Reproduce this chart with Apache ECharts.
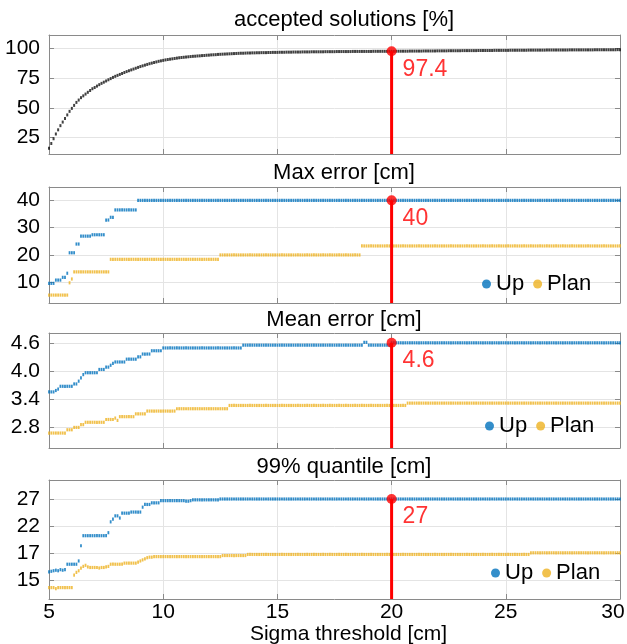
<!DOCTYPE html>
<html lang="en">
<head>
<meta charset="UTF-8">
<title>Sigma threshold</title>
<style type="text/css">
    html, body {
        margin: 0;
        padding: 0;
        background: #fff;
    }

    #main {
        width: 627px;
        height: 644px;
    }
</style>
</head>
<body>
<div id="main"></div>
<script src="https://cdn.jsdelivr.net/npm/echarts@6/dist/echarts.min.js"></script>
<script type="text/javascript">
// sigma threshold grid [cm]: 5.0, 5.1, ... 30.0
var xStart = 5;
var xStep = 0.1;

// accepted solutions [%]
var accepted = [
    16, 20, 24, 28, 31.5, 35, 38, 41, 44, 47,
    49.5, 52, 54.5, 56.5, 58.5, 60, 61.5, 63, 64.5, 66,
    67, 68.2, 69.4, 70.5, 71.5, 72.5, 73.5, 74.5, 75.5, 76.4,
    77.2, 78, 78.8, 79.6, 80.4, 81.1, 81.8, 82.5, 83.2, 83.9,
    84.6, 85.2, 85.8, 86.4, 87, 87.5, 88, 88.5, 89, 89.4,
    89.8, 90.2, 90.5, 90.8, 91.1, 91.4, 91.7, 92, 92.2, 92.4,
    92.6, 92.8, 93, 93.2, 93.3, 93.5, 93.6, 93.8, 93.9, 94.1,
    94.2, 94.4, 94.5, 94.6, 94.8, 94.9, 95, 95.1, 95.2, 95.3,
    95.4, 95.5, 95.6, 95.7, 95.8, 95.8, 95.9, 96, 96, 96.1,
    96.1, 96.2, 96.2, 96.3, 96.3, 96.3, 96.4, 96.4, 96.5, 96.5,
    96.5, 96.6, 96.6, 96.6, 96.7, 96.7, 96.7, 96.8, 96.8, 96.8,
    96.8, 96.9, 96.9, 96.9, 96.9, 97, 97, 97, 97, 97,
    97, 97.1, 97.1, 97.1, 97.1, 97.1, 97.2, 97.2, 97.2, 97.2,
    97.2, 97.2, 97.2, 97.3, 97.3, 97.3, 97.3, 97.3, 97.3, 97.3,
    97.3, 97.3, 97.4, 97.4, 97.4, 97.4, 97.4, 97.4, 97.4, 97.4,
    97.4, 97.4, 97.5, 97.5, 97.5, 97.5, 97.5, 97.5, 97.6, 97.6,
    97.6, 97.6, 97.6, 97.6, 97.7, 97.7, 97.7, 97.7, 97.7, 97.7,
    97.8, 97.8, 97.8, 97.8, 97.8, 97.9, 97.9, 97.9, 97.9, 97.9,
    97.9, 98, 98, 98, 98, 98, 98, 98, 98.1, 98.1,
    98.1, 98.1, 98.1, 98.1, 98.1, 98.2, 98.2, 98.2, 98.2, 98.2,
    98.2, 98.2, 98.3, 98.3, 98.3, 98.3, 98.3, 98.3, 98.3, 98.3,
    98.4, 98.4, 98.4, 98.4, 98.4, 98.4, 98.4, 98.4, 98.5, 98.5,
    98.5, 98.5, 98.5, 98.5, 98.5, 98.5, 98.5, 98.5, 98.6, 98.6,
    98.6, 98.6, 98.6, 98.6, 98.6, 98.6, 98.6, 98.6, 98.6, 98.7,
    98.7, 98.7, 98.7, 98.7, 98.7, 98.7, 98.7, 98.7, 98.7, 98.8,
    98.8
];

// max error [cm]
var maxUp = [
    9.6, 9.6, 9.6, 10.8, 10.8, 10.8, 11.8, 11.8, 13.3, 20.8,
    20.8, 20.8, 24, 24, 26.9, 26.9, 26.9, 26.9, 26.9, 27.4,
    27.4, 27.4, 27.4, 27.4, 27.4, 32.8, 32.8, 33.8, 33.8, 36.5,
    36.5, 36.5, 36.5, 36.5, 36.5, 36.5, 36.5, 36.5, 36.5, 40,
    40, 40, 40, 40, 40, 40, 40, 40, 40, 40,
    40, 40, 40, 40, 40, 40, 40, 40, 40, 40,
    40, 40, 40, 40, 40, 40, 40, 40, 40, 40,
    40, 40, 40, 40, 40, 40, 40, 40, 40, 40,
    40, 40, 40, 40, 40, 40, 40, 40, 40, 40,
    40, 40, 40, 40, 40, 40, 40, 40, 40, 40,
    40, 40, 40, 40, 40, 40, 40, 40, 40, 40,
    40, 40, 40, 40, 40, 40, 40, 40, 40, 40,
    40, 40, 40, 40, 40, 40, 40, 40, 40, 40,
    40, 40, 40, 40, 40, 40, 40, 40, 40, 40,
    40, 40, 40, 40, 40, 40, 40, 40, 40, 40,
    40, 40, 40, 40, 40, 40, 40, 40, 40, 40,
    40, 40, 40, 40, 40, 40, 40, 40, 40, 40,
    40, 40, 40, 40, 40, 40, 40, 40, 40, 40,
    40, 40, 40, 40, 40, 40, 40, 40, 40, 40,
    40, 40, 40, 40, 40, 40, 40, 40, 40, 40,
    40, 40, 40, 40, 40, 40, 40, 40, 40, 40,
    40, 40, 40, 40, 40, 40, 40, 40, 40, 40,
    40, 40, 40, 40, 40, 40, 40, 40, 40, 40,
    40, 40, 40, 40, 40, 40, 40, 40, 40, 40,
    40, 40, 40, 40, 40, 40, 40, 40, 40, 40,
    40
];
var maxPlan = [
    5.3, 5.3, 5.3, 5.3, 5.3, 5.3, 5.3, 5.3, 5.3, 9.8,
    11.2, 13.8, 13.8, 13.8, 13.8, 13.8, 13.8, 13.8, 13.8, 13.8,
    13.8, 13.8, 13.8, 13.8, 13.8, 13.8, 13.8, 18.4, 18.4, 18.4,
    18.4, 18.4, 18.4, 18.4, 18.4, 18.4, 18.4, 18.4, 18.4, 18.4,
    18.4, 18.4, 18.4, 18.4, 18.4, 18.4, 18.4, 18.4, 18.4, 18.4,
    18.4, 18.4, 18.4, 18.4, 18.4, 18.4, 18.4, 18.4, 18.4, 18.4,
    18.4, 18.4, 18.4, 18.4, 18.4, 18.4, 18.4, 18.4, 18.4, 18.4,
    18.4, 18.4, 18.4, 18.4, 18.4, 20, 20, 20, 20, 20,
    20, 20, 20, 20, 20, 20, 20, 20, 20, 20,
    20, 20, 20, 20, 20, 20, 20, 20, 20, 20,
    20, 20, 20, 20, 20, 20, 20, 20, 20, 20,
    20, 20, 20, 20, 20, 20, 20, 20, 20, 20,
    20, 20, 20, 20, 20, 20, 20, 20, 20, 20,
    20, 20, 20, 20, 20, 20, 20, 23.3, 23.3, 23.3,
    23.3, 23.3, 23.3, 23.3, 23.3, 23.3, 23.3, 23.3, 23.3, 23.3,
    23.3, 23.3, 23.3, 23.3, 23.3, 23.3, 23.3, 23.3, 23.3, 23.3,
    23.3, 23.3, 23.3, 23.3, 23.3, 23.3, 23.3, 23.3, 23.3, 23.3,
    23.3, 23.3, 23.3, 23.3, 23.3, 23.3, 23.3, 23.3, 23.3, 23.3,
    23.3, 23.3, 23.3, 23.3, 23.3, 23.3, 23.3, 23.3, 23.3, 23.3,
    23.3, 23.3, 23.3, 23.3, 23.3, 23.3, 23.3, 23.3, 23.3, 23.3,
    23.3, 23.3, 23.3, 23.3, 23.3, 23.3, 23.3, 23.3, 23.3, 23.3,
    23.3, 23.3, 23.3, 23.3, 23.3, 23.3, 23.3, 23.3, 23.3, 23.3,
    23.3, 23.3, 23.3, 23.3, 23.3, 23.3, 23.3, 23.3, 23.3, 23.3,
    23.3, 23.3, 23.3, 23.3, 23.3, 23.3, 23.3, 23.3, 23.3, 23.3,
    23.3, 23.3, 23.3, 23.3, 23.3, 23.3, 23.3, 23.3, 23.3, 23.3,
    23.3
];

// mean error [cm]
var meanUp = [
    3.55, 3.55, 3.55, 3.58, 3.61, 3.67, 3.67, 3.67, 3.67, 3.67,
    3.67, 3.72, 3.72, 3.78, 3.85, 3.92, 3.96, 3.96, 3.96, 3.96,
    3.96, 3.96, 4.03, 4.03, 4.03, 4.08, 4.08, 4.12, 4.16, 4.19,
    4.19, 4.19, 4.19, 4.19, 4.25, 4.25, 4.25, 4.25, 4.25, 4.3,
    4.3, 4.36, 4.36, 4.36, 4.36, 4.43, 4.43, 4.43, 4.43, 4.43,
    4.49, 4.49, 4.49, 4.49, 4.49, 4.49, 4.49, 4.49, 4.49, 4.49,
    4.49, 4.49, 4.49, 4.49, 4.49, 4.49, 4.49, 4.49, 4.49, 4.49,
    4.49, 4.49, 4.49, 4.49, 4.49, 4.49, 4.49, 4.49, 4.49, 4.49,
    4.49, 4.49, 4.49, 4.49, 4.49, 4.55, 4.55, 4.55, 4.55, 4.55,
    4.55, 4.55, 4.55, 4.55, 4.55, 4.55, 4.55, 4.55, 4.55, 4.55,
    4.55, 4.55, 4.55, 4.55, 4.55, 4.55, 4.55, 4.55, 4.55, 4.55,
    4.55, 4.55, 4.55, 4.55, 4.55, 4.55, 4.55, 4.55, 4.55, 4.55,
    4.55, 4.55, 4.55, 4.55, 4.55, 4.55, 4.55, 4.55, 4.55, 4.55,
    4.55, 4.55, 4.55, 4.55, 4.55, 4.55, 4.55, 4.55, 4.61, 4.61,
    4.55, 4.55, 4.55, 4.55, 4.55, 4.55, 4.55, 4.55, 4.55, 4.55,
    4.6, 4.6, 4.6, 4.6, 4.6, 4.6, 4.6, 4.6, 4.6, 4.6,
    4.6, 4.6, 4.6, 4.6, 4.6, 4.6, 4.6, 4.6, 4.6, 4.6,
    4.6, 4.6, 4.6, 4.6, 4.6, 4.6, 4.6, 4.6, 4.6, 4.6,
    4.6, 4.6, 4.6, 4.6, 4.6, 4.6, 4.6, 4.6, 4.6, 4.6,
    4.6, 4.6, 4.6, 4.6, 4.6, 4.6, 4.6, 4.6, 4.6, 4.6,
    4.6, 4.6, 4.6, 4.6, 4.6, 4.6, 4.6, 4.6, 4.6, 4.6,
    4.6, 4.6, 4.6, 4.6, 4.6, 4.6, 4.6, 4.6, 4.6, 4.6,
    4.6, 4.6, 4.6, 4.6, 4.6, 4.6, 4.6, 4.6, 4.6, 4.6,
    4.6, 4.6, 4.6, 4.6, 4.6, 4.6, 4.6, 4.6, 4.6, 4.6,
    4.6, 4.6, 4.6, 4.6, 4.6, 4.6, 4.6, 4.6, 4.6, 4.6,
    4.6
];
var meanPlan = [
    2.67, 2.67, 2.67, 2.67, 2.67, 2.67, 2.67, 2.67, 2.74, 2.74,
    2.74, 2.79, 2.79, 2.79, 2.85, 2.85, 2.9, 2.9, 2.9, 2.9,
    2.9, 2.9, 2.9, 2.9, 2.9, 2.96, 2.96, 2.96, 2.96, 2.99,
    2.94, 3.02, 3.02, 3.02, 3.02, 3.02, 3.02, 3.02, 3.08, 3.08,
    3.08, 3.08, 3.08, 3.14, 3.14, 3.14, 3.14, 3.14, 3.14, 3.14,
    3.14, 3.14, 3.14, 3.14, 3.14, 3.14, 3.19, 3.19, 3.19, 3.19,
    3.19, 3.19, 3.19, 3.19, 3.19, 3.19, 3.19, 3.19, 3.19, 3.19,
    3.19, 3.19, 3.19, 3.19, 3.19, 3.19, 3.19, 3.19, 3.19, 3.26,
    3.26, 3.26, 3.26, 3.26, 3.26, 3.26, 3.26, 3.26, 3.26, 3.26,
    3.26, 3.26, 3.26, 3.26, 3.26, 3.26, 3.26, 3.26, 3.26, 3.26,
    3.26, 3.26, 3.26, 3.26, 3.26, 3.26, 3.26, 3.26, 3.26, 3.26,
    3.26, 3.26, 3.26, 3.26, 3.26, 3.26, 3.26, 3.26, 3.26, 3.26,
    3.26, 3.26, 3.26, 3.26, 3.26, 3.26, 3.26, 3.26, 3.26, 3.26,
    3.26, 3.26, 3.26, 3.26, 3.26, 3.26, 3.26, 3.26, 3.26, 3.26,
    3.26, 3.26, 3.26, 3.26, 3.26, 3.26, 3.26, 3.26, 3.26, 3.26,
    3.26, 3.26, 3.26, 3.26, 3.26, 3.26, 3.26, 3.31, 3.31, 3.31,
    3.31, 3.31, 3.31, 3.31, 3.31, 3.31, 3.31, 3.31, 3.31, 3.31,
    3.31, 3.31, 3.31, 3.31, 3.31, 3.31, 3.31, 3.31, 3.31, 3.31,
    3.31, 3.31, 3.31, 3.31, 3.31, 3.31, 3.31, 3.31, 3.31, 3.31,
    3.31, 3.31, 3.31, 3.31, 3.31, 3.31, 3.31, 3.31, 3.31, 3.31,
    3.31, 3.31, 3.31, 3.31, 3.31, 3.31, 3.31, 3.31, 3.31, 3.31,
    3.31, 3.31, 3.31, 3.31, 3.31, 3.31, 3.31, 3.31, 3.31, 3.31,
    3.31, 3.31, 3.31, 3.31, 3.31, 3.31, 3.31, 3.31, 3.31, 3.31,
    3.31, 3.31, 3.31, 3.31, 3.31, 3.31, 3.31, 3.31, 3.31, 3.31,
    3.31, 3.31, 3.31, 3.31, 3.31, 3.31, 3.31, 3.31, 3.31, 3.31,
    3.31
];

// 99% quantile [cm], in axis units (tick 12 is labelled "15" in the figure)
var q99Up = [
    13.6, 13.7, 13.8, 13.9, 13.8, 14, 13.9, 14, 15, 15,
    15, 15, 15, 15.6, 18.4, 20.25, 20.25, 20.25, 20.25, 20.25,
    20.25, 20.25, 20.25, 20.25, 20.25, 20.25, 20.8, 22.8, 23.3, 23.9,
    23.9, 23.5, 24.4, 24.4, 24.4, 24.4, 24.6, 24.6, 24.6, 24.6,
    24.6, 25.5, 26, 26, 26, 26.3, 26.3, 26.3, 26.3, 26.7,
    26.7, 26.7, 26.7, 26.7, 26.7, 26.7, 26.7, 26.7, 26.7, 26.7,
    26.6, 26.6, 26.7, 26.85, 26.85, 26.85, 26.85, 26.85, 26.85, 26.85,
    26.85, 26.85, 26.85, 26.85, 26.85, 27, 27, 27, 27, 27,
    27, 27, 27, 27, 27, 27, 27, 27, 27, 27,
    27, 27, 27, 27, 27, 27, 27, 27, 27, 27,
    27, 27, 27, 27, 27, 27, 27, 27, 27, 27,
    27, 27, 27, 27, 27, 27, 27, 27, 27, 27,
    27, 27, 27, 27, 27, 27, 27, 27, 27, 27,
    27, 27, 27, 27, 27, 27, 27, 27, 27, 27,
    27, 27, 27, 27, 27, 27, 27, 27, 27, 27,
    27, 27, 27, 27, 27, 27, 27, 27, 27, 27,
    27, 27, 27, 27, 27, 27, 27, 27, 27, 27,
    27, 27, 27, 27, 27, 27, 27, 27, 27, 27,
    27, 27, 27, 27, 27, 27, 27, 27, 27, 27,
    27, 27, 27, 27, 27, 27, 27, 27, 27, 27,
    27, 27, 27, 27, 27, 27, 27, 27, 27, 27,
    27, 27, 27, 27, 27, 27, 27, 27, 27, 27,
    27, 27, 27, 27, 27, 27, 27, 27, 27, 27,
    27, 27, 27, 27, 27, 27, 27, 27, 27, 27,
    27, 27, 27, 27, 27, 27, 27, 27, 27, 27,
    27
];
var q99Plan = [
    10.7, 10.7, 10.7, 10.5, 10.7, 10.7, 10.7, 10.7, 10.7, 10.7,
    10.7, 13, 13.5, 13.8, 14.3, 14.6, 14.8, 14.5, 14.4, 14.4,
    14.4, 14.4, 14.3, 14.4, 14.4, 14.5, 14.6, 15, 15, 15,
    15, 15, 15, 15.2, 15.2, 15.2, 15.2, 15.2, 15.2, 15.4,
    15.6, 15.8, 16, 16.2, 16.3, 16.3, 16.4, 16.4, 16.4, 16.4,
    16.4, 16.4, 16.4, 16.4, 16.4, 16.4, 16.4, 16.4, 16.4, 16.4,
    16.4, 16.4, 16.4, 16.4, 16.4, 16.4, 16.4, 16.4, 16.4, 16.4,
    16.4, 16.4, 16.4, 16.4, 16.4, 16.4, 16.6, 16.6, 16.6, 16.6,
    16.6, 16.6, 16.6, 16.6, 16.6, 16.6, 16.6, 16.8, 16.8, 16.8,
    16.8, 16.8, 16.8, 16.8, 16.8, 16.8, 16.8, 16.8, 16.8, 16.8,
    16.8, 16.8, 16.8, 16.8, 16.8, 16.8, 16.8, 16.8, 16.8, 16.8,
    16.8, 16.8, 16.8, 16.8, 16.8, 16.8, 16.8, 16.8, 16.8, 16.8,
    16.8, 16.8, 16.8, 16.8, 16.8, 16.8, 16.8, 16.8, 16.8, 16.8,
    16.8, 16.8, 16.8, 16.8, 16.8, 16.8, 16.8, 16.8, 16.8, 16.8,
    16.8, 16.8, 16.8, 16.8, 16.8, 16.8, 16.8, 16.8, 16.8, 16.8,
    16.8, 16.8, 16.8, 16.8, 16.8, 16.8, 16.8, 16.8, 16.8, 16.8,
    16.8, 16.8, 16.8, 16.8, 16.8, 16.8, 16.8, 16.8, 16.8, 16.8,
    16.8, 16.8, 16.8, 16.8, 16.8, 16.8, 16.8, 16.8, 16.8, 16.8,
    16.8, 16.8, 16.8, 16.8, 16.8, 16.8, 16.8, 16.8, 16.8, 16.8,
    16.8, 16.8, 16.8, 16.8, 16.8, 16.8, 16.8, 16.8, 16.8, 16.8,
    16.8, 16.8, 16.8, 16.8, 16.8, 16.8, 16.8, 16.8, 16.8, 16.8,
    16.8, 17.1, 17.1, 17.1, 17.1, 17.1, 17.1, 17.1, 17.1, 17.1,
    17.1, 17.1, 17.1, 17.1, 17.1, 17.1, 17.1, 17.1, 17.1, 17.1,
    17.1, 17.1, 17.1, 17.1, 17.1, 17.1, 17.1, 17.1, 17.1, 17.1,
    17.1, 17.1, 17.1, 17.1, 17.1, 17.1, 17.1, 17.1, 17.1, 17.1,
    17.1
];

// the marked threshold and the values read there
var markX = 20;
var markValues = [97.4, 40, 4.6, 27];
var markLabels = ['97.4', '40', '4.6', '27'];

var titles = ['accepted solutions [%]', 'Max error [cm]', 'Mean error [cm]', '99% quantile [cm]'];
var xTicks = [5, 10, 15, 20, 25, 30];
var yTicks = [[25, 50, 75, 100], [10, 20, 30, 40], [2.8, 3.4, 4.0, 4.6], [12, 17, 22, 27]];
var yTickLabels = [['25', '50', '75', '100'], ['10', '20', '30', '40'], ['2.8', '3.4', '4.0', '4.6'], ['15', '17', '22', '27']];

// layout
var fontFamily = 'Liberation Sans, Arial, sans-serif';
var borderColor = '#8a8a8a';
var splitColor = '#e4e4e4';
var upColor = '#0072bd';
var planColor = '#edb120';
var markColor = '#ff0000';
var panels = [
    { top: 35, height: 119, yMin: 11.2, yMax: 111.1, titleTop: 9 },
    { top: 187, height: 116, yMin: 2.4, yMax: 44.9, titleTop: 162, legendLeft: 482, legendTop: 273 },
    { top: 333, height: 115, yMin: 2.35, yMax: 4.81, titleTop: 309, legendLeft: 485, legendTop: 415 },
    { top: 480, height: 119, yMin: 8.6, yMax: 30.5, titleTop: 456, legendLeft: 491, legendTop: 562 }
];

function toPairs(values) {
    var out = [];
    for (var i = 0; i < values.length; i++) {
        out.push([Math.round((xStart + i * xStep) * 10) / 10, values[i]]);
    }
    return out;
}

function tickFormatter(ticks, labels) {
    return function (v) {
        for (var k = 0; k < ticks.length; k++) {
            if (Math.abs(ticks[k] - v) < 1e-6) return labels[k];
        }
        return '';
    };
}

// last x label sits a little inside the right border, as in the figure
function xLabel(v) {
    return v === xTicks[xTicks.length - 1] ? '{end|' + v + '}' : String(v);
}

var chart = echarts.init(document.getElementById('main'), null, { renderer: 'canvas' });

var grid = [], xAxis = [], yAxis = [], title = [], legend = [], series = [];

panels.forEach(function (p, i) {
    var last = i === panels.length - 1;
    grid.push({ left: 49, right: 7, top: p.top, height: p.height, outerBoundsMode: 'none', containLabel: false });
    title.push({
        text: titles[i], left: 344, top: p.titleTop, textAlign: 'center', padding: 0,
        textStyle: { fontFamily: fontFamily, fontSize: 22, fontWeight: 'normal', color: '#000' }
    });

    // bottom and top x axes (the top one only draws the box and inner ticks)
    xAxis.push({
        type: 'value', gridIndex: i, position: 'bottom', min: xTicks[0], max: xTicks[xTicks.length - 1], interval: 5,
        axisLine: { show: true, lineStyle: { color: borderColor, width: 1 } },
        axisTick: { show: true, inside: true, length: 5, lineStyle: { color: borderColor } },
        axisLabel: {
            show: last, margin: 3, fontFamily: fontFamily, fontSize: 21, color: '#000',
            formatter: xLabel,
            rich: { end: { fontFamily: fontFamily, fontSize: 21, color: '#000', padding: [0, 14, 0, 0] } }
        },
        splitLine: { show: true, lineStyle: { color: splitColor } },
        name: last ? 'Sigma threshold [cm]' : '', nameLocation: 'middle', nameGap: 20,
        nameTextStyle: { fontFamily: fontFamily, fontSize: 21, color: '#000', padding: [0, 0, 0, 28] }
    });
    xAxis.push({
        type: 'value', gridIndex: i, position: 'top', min: xTicks[0], max: xTicks[xTicks.length - 1], interval: 5,
        axisLine: { show: true, lineStyle: { color: borderColor, width: 1 } },
        axisTick: { show: true, inside: true, length: 5, lineStyle: { color: borderColor } },
        axisLabel: { show: false }, splitLine: { show: false }
    });

    // left and right y axes
    yAxis.push({
        type: 'value', gridIndex: i, position: 'left', min: p.yMin, max: p.yMax,
        axisLine: { show: true, lineStyle: { color: borderColor, width: 1 } },
        axisTick: { show: true, inside: true, length: 5, customValues: yTicks[i], lineStyle: { color: borderColor } },
        axisLabel: {
            show: true, customValues: yTicks[i], formatter: tickFormatter(yTicks[i], yTickLabels[i]),
            margin: 9, fontFamily: fontFamily, fontSize: 21, color: '#000'
        },
        splitLine: { show: true, lineStyle: { color: splitColor } }
    });
    yAxis.push({
        type: 'value', gridIndex: i, position: 'right', min: p.yMin, max: p.yMax,
        axisLine: { show: true, lineStyle: { color: borderColor, width: 1 } },
        axisTick: { show: true, inside: true, length: 5, customValues: yTicks[i], lineStyle: { color: borderColor } },
        axisLabel: { show: false, customValues: yTicks[i] },
        splitLine: { show: false }
    });

    if (p.legendLeft !== undefined) {
        legend.push({
            data: ['Up', 'Plan'], left: p.legendLeft, top: p.legendTop, padding: 0,
            icon: 'circle', itemWidth: 9, itemHeight: 9, itemGap: 9, selectedMode: false,
            textStyle: { fontFamily: fontFamily, fontSize: 22, color: '#000' }
        });
    }
});

function dots(name, values, panel, color, size) {
    return {
        name: name, type: 'scatter', xAxisIndex: panel * 2, yAxisIndex: panel * 2,
        data: toPairs(values), symbol: 'rect', symbolSize: size,
        itemStyle: { color: color }, silent: true, z: 2
    };
}

series.push(dots('accepted', accepted, 0, '#111111', [2, 3]));
series.push(dots('Up', maxUp, 1, upColor, [1.8, 3.2]));
series.push(dots('Plan', maxPlan, 1, planColor, [1.8, 3.2]));
series.push(dots('Up', meanUp, 2, upColor, [1.8, 3.2]));
series.push(dots('Plan', meanPlan, 2, planColor, [1.8, 3.2]));
series.push(dots('Up', q99Up, 3, upColor, [1.8, 3.2]));
series.push(dots('Plan', q99Plan, 3, planColor, [1.8, 3.2]));

// red stem from the axis floor up to the marked value, and the dot with its label
markValues.forEach(function (v, i) {
    series.push({
        name: 'stem' + i, type: 'line', xAxisIndex: i * 2, yAxisIndex: i * 2,
        data: [[markX, panels[i].yMin], [markX, v]], symbol: 'none', silent: true, z: 5,
        lineStyle: { color: markColor, width: 3 }
    });
    series.push({
        name: 'markDot' + i, type: 'scatter', xAxisIndex: i * 2, yAxisIndex: i * 2,
        data: [[markX, v]], symbol: 'circle', symbolSize: 10, silent: true, z: 6,
        itemStyle: { color: markColor },
        label: {
            show: true, position: 'right', distance: 6, offset: [0, 18],
            formatter: markLabels[i], color: markColor, fontFamily: fontFamily, fontSize: 23
        }
    });
});

chart.setOption({
    animation: false,
    backgroundColor: '#fff',
    title: title,
    legend: legend,
    grid: grid,
    xAxis: xAxis,
    yAxis: yAxis,
    series: series
});
</script>
</body>
</html>
